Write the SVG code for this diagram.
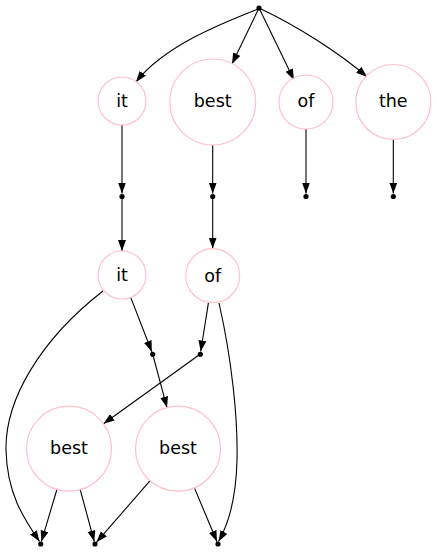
<svg xmlns="http://www.w3.org/2000/svg" width="437" height="552" viewBox="0 0 437 552">
<style>
.node circle.n{fill:#ffffff;stroke:#ffc0cb;stroke-width:1.2}
.pt{fill:#000000;stroke:none}
.lbl{font-family:"DejaVu Sans",sans-serif;font-size:17.5px;fill:#000000;text-anchor:middle}
.edges path{fill:none;stroke:#000000;stroke-width:1.1;marker-end:url(#arr)}
</style>
<defs>
<marker id="arr" markerUnits="userSpaceOnUse" markerWidth="12" markerHeight="9" refX="11" refY="4" orient="auto">
<path d="M0,0 L11,4 L0,8 z" fill="#000000"/>
</marker>
</defs>
<rect width="437" height="552" fill="#ffffff"/>
<g id="edges" class="edges">
<path d="M258,9 C225,22 165,45 136,82"/>
<path d="M258,10 L232,64"/>
<path d="M260,10 L294,80"/>
<path d="M261,9 C295,25 340,53 367,77"/>
<path d="M122,125 L122,193.5"/>
<path d="M212.7,145 L212.7,193.5"/>
<path d="M306,129 L306,193.5"/>
<path d="M393.3,140 L393.3,193.5"/>
<path d="M122,198 L122,251"/>
<path d="M212.7,198 L212.7,248.5"/>
<path d="M130.7,297.4 L151.8,351.7"/>
<path d="M208.5,302.4 L200.7,351.5"/>
<path d="M153.3,356.5 L167,407.6"/>
<path d="M198.3,355.5 L103.5,423.8"/>
<path d="M56.9,489.5 L41.4,541.6"/>
<path d="M80.2,489.7 L94.3,541.6"/>
<path d="M150.1,480.7 L96.6,542.1"/>
<path d="M194.4,487.9 L217,541.7"/>
<path d="M103,291 C40,340 5,400 6,450 C7,495 25,520 39.5,541.5"/>
<path d="M219,303 C232,360 238,420 237,460 C236,500 228,525 218.5,541.5"/>
</g>
<g id="root" class="node"><circle class="pt" cx="259" cy="8" r="2.6"/></g>
<g id="it1" class="node"><circle class="n" cx="122" cy="101" r="24"/><text class="lbl" x="122" y="107">it</text></g>
<g id="best1" class="node"><circle class="n" cx="212.7" cy="102" r="43"/><text class="lbl" x="212.7" y="107">best</text></g>
<g id="of1" class="node"><circle class="n" cx="306" cy="102" r="27"/><text class="lbl" x="306" y="107">of</text></g>
<g id="the1" class="node"><circle class="n" cx="393.3" cy="102" r="37.5"/><text class="lbl" x="393.3" y="107">the</text></g>
<g id="p1" class="node"><circle class="pt" cx="122" cy="196.5" r="2.6"/></g>
<g id="p2" class="node"><circle class="pt" cx="212.7" cy="196.5" r="2.6"/></g>
<g id="p3" class="node"><circle class="pt" cx="306" cy="196.5" r="2.6"/></g>
<g id="p4" class="node"><circle class="pt" cx="393.3" cy="196.5" r="2.6"/></g>
<g id="it2" class="node"><circle class="n" cx="122" cy="275" r="24"/><text class="lbl" x="122" y="281">it</text></g>
<g id="of2" class="node"><circle class="n" cx="212.7" cy="275.7" r="27"/><text class="lbl" x="212.7" y="281.5">of</text></g>
<g id="p5" class="node"><circle class="pt" cx="152.7" cy="354.3" r="2.6"/></g>
<g id="p6" class="node"><circle class="pt" cx="200.3" cy="354.3" r="2.6"/></g>
<g id="best2" class="node"><circle class="n" cx="69" cy="448.7" r="42.5"/><text class="lbl" x="69" y="454">best</text></g>
<g id="best3" class="node"><circle class="n" cx="178" cy="448.7" r="42.5"/><text class="lbl" x="178" y="454">best</text></g>
<g id="p7" class="node"><circle class="pt" cx="40.7" cy="544" r="2.6"/></g>
<g id="p8" class="node"><circle class="pt" cx="95" cy="544" r="2.6"/></g>
<g id="p9" class="node"><circle class="pt" cx="218" cy="544" r="2.6"/></g>
</svg>
